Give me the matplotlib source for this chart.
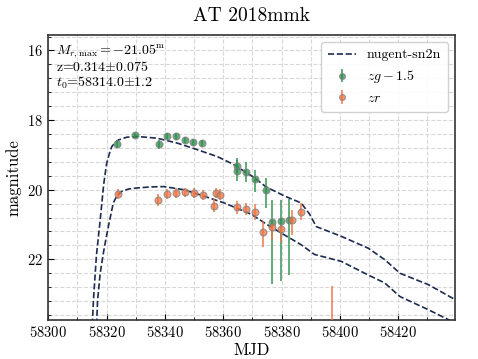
import matplotlib
matplotlib.use("Agg")
import matplotlib.pyplot as plt
from matplotlib.ticker import MultipleLocator

plt.rcParams['font.family'] = 'serif'
plt.rcParams['font.serif'] = ['cmr10', 'DejaVu Serif']
plt.rcParams['mathtext.fontset'] = 'cm'
plt.rcParams['axes.formatter.use_mathtext'] = True

# ---- data ----
g_mjd = [58323.7, 58329.8, 58337.8, 58340.8, 58343.9, 58346.8, 58349.8, 58352.8,
         58364.7, 58364.7, 58367.7, 58370.8, 58374.7, 58376.7, 58379.8, 58382.7]
g_mag = [18.68, 18.44, 18.69, 18.45, 18.47, 18.57, 18.64, 18.66,
         19.31, 19.45, 19.49, 19.68, 20.01, 20.93, 20.91, 20.87]
g_err_lo = [0.12, 0.07, 0.13, 0.09, 0.09, 0.09, 0.09, 0.10,
            0.22, 0.30, 0.30, 0.25, 0.35, 0.64, 0.62, 0.61]
g_err_hi = [0.12, 0.07, 0.13, 0.09, 0.09, 0.09, 0.09, 0.10,
            0.22, 0.30, 0.30, 0.38, 0.52, 1.77, 1.70, 1.58]

r_mjd = [58323.9, 58337.7, 58340.8, 58343.9, 58346.8, 58349.9, 58352.9, 58356.7,
         58357.6, 58358.8, 58364.8, 58367.8, 58370.8, 58373.7, 58376.7, 58379.8,
         58383.7, 58386.7, 58397.4]
r_mag = [20.12, 20.30, 20.12, 20.10, 20.08, 20.10, 20.16, 20.46,
         20.10, 20.14, 20.51, 20.55, 20.64, 21.21, 21.06, 21.12,
         20.87, 20.63, 24.60]
r_err_lo = [0.14, 0.17, 0.15, 0.15, 0.14, 0.14, 0.15, 0.18,
            0.15, 0.15, 0.18, 0.18, 0.22, 0.30, 0.20, 0.16,
            0.29, 0.25, 1.82]
r_err_hi = [0.14, 0.17, 0.15, 0.15, 0.14, 0.14, 0.15, 0.18,
            0.15, 0.15, 0.18, 0.18, 0.24, 0.44, 0.38, 0.37,
            0.43, 0.23, 1.82]

mg_mjd = [58314.0, 58314.8, 58315.5, 58316.5, 58317.8, 58319.0, 58320.0, 58321.0,
          58321.8, 58323.0, 58324.1, 58327.0, 58330.4, 58337.3, 58344.2, 58351.1,
          58358.0, 58363.7, 58370.6, 58374.7, 58381.0, 58386.7, 58389.6, 58391.9,
          58400.5, 58409.7, 58415.4, 58420.6, 58430.4, 58440.0]
mg_mag = [26.0, 24.4, 23.16, 21.9, 20.87, 19.85, 19.25, 18.95,
          18.76, 18.64, 18.57, 18.49, 18.47, 18.52, 18.66, 18.85,
          19.05, 19.28, 19.65, 19.92, 20.18, 20.38, 20.70, 21.06,
          21.34, 21.68, 22.01, 22.40, 22.73, 23.18]

mr_mjd = [58315.5, 58316.2, 58316.9, 58317.8, 58318.9, 58319.8, 58320.6, 58321.5,
          58322.3, 58323.5, 58325.2, 58327.5, 58330.4, 58335.0, 58339.6, 58346.5,
          58352.2, 58360.3, 58369.5, 58375.2, 58381.0, 58386.7, 58391.3, 58400.5,
          58409.7, 58415.4, 58420.6, 58430.4, 58440.0]
mr_mag = [26.0, 24.6, 23.2, 22.4, 21.82, 21.4, 21.06, 20.7,
          20.38, 20.18, 20.05, 19.98, 19.95, 19.92, 19.91, 20.0,
          20.15, 20.38, 20.70, 21.01, 21.30, 21.58, 21.86, 22.06,
          22.45, 22.68, 23.07, 23.45, 23.85]

title = "AT 2018mmk"
info_lines = [r"$M_{r,\mathrm{max}} = -21.05^{\mathrm{m}}$",
              r"z=0.314$\pm$0.075",
              r"$t_0$=58314.0$\pm$1.2"]

# ---- plot ----
fig = plt.figure(figsize=(4.78, 3.59), dpi=100)
ax = fig.add_axes([0.101, 0.108, 0.851, 0.795])

line_col = '#1c2b50'
g_col = '#2f8f4e'
r_col = '#f07341'

ax.plot(mg_mjd, mg_mag, ls='--', color=line_col, lw=1.2, label='nugent-sn2n', zorder=3)
ax.plot(mr_mjd, mr_mag, ls='--', color=line_col, lw=1.2, zorder=3)

ax.errorbar(g_mjd, g_mag, yerr=[g_err_lo, g_err_hi], fmt='o', color=g_col,
            ecolor=g_col, elinewidth=1.4, ms=5, mec='gray', mew=0.8, alpha=0.75,
            label=r'$zg - 1.5$', zorder=4)
ax.errorbar(r_mjd, r_mag, yerr=[r_err_lo, r_err_hi], fmt='o', color=r_col,
            ecolor=r_col, elinewidth=1.4, ms=5, mec='gray', mew=0.8, alpha=0.75,
            label=r'$zr$', zorder=4)

ax.set_xlim(58300, 58439.5)
ax.set_ylim(23.75, 15.55)
ax.xaxis.set_major_locator(MultipleLocator(20))
ax.xaxis.set_minor_locator(MultipleLocator(10))
ax.yaxis.set_major_locator(MultipleLocator(2))
ax.yaxis.set_minor_locator(MultipleLocator(0.4))
ax.tick_params(which='both', direction='in', labelsize=10.5)
ax.tick_params(which='major', length=4)
ax.tick_params(which='minor', length=2.5)
ax.grid(True, which='both', ls='--', color='#d8d8d8', lw=0.8, zorder=0)
ax.set_axisbelow(True)
for s in ax.spines.values():
    s.set_linewidth(1.2)
    s.set_color('#333333')

ax.set_xlabel('MJD', fontsize=12, labelpad=2)
ax.set_ylabel('magnitude', fontsize=12, labelpad=4)
ax.set_title(title, fontsize=14, pad=10)

ax.text(0.018, 0.975, "\n".join(info_lines), transform=ax.transAxes,
        va='top', ha='left', fontsize=10, linespacing=1.05)

ax.legend(loc='upper right', fontsize=10, framealpha=0.9, edgecolor='#cccccc',
          handlelength=2.0, borderpad=0.5, labelspacing=0.5, markerscale=0.85)

fig.savefig('out.png', dpi=100)
